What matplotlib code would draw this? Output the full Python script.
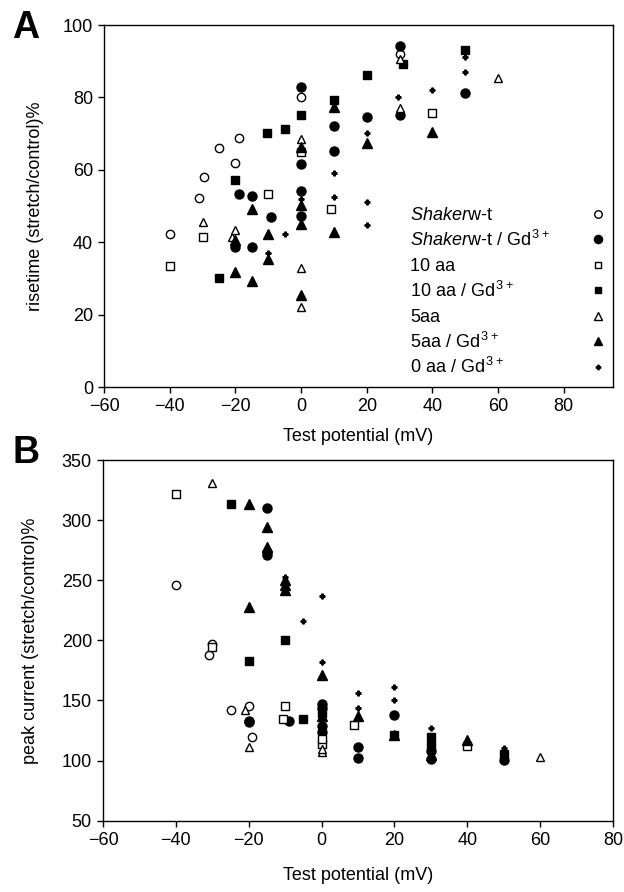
import matplotlib
matplotlib.use("Agg")
import matplotlib.pyplot as plt

plt.rcParams['font.family'] = ['Liberation Sans', 'DejaVu Sans']
plt.rcParams['mathtext.fontset'] = 'custom'
plt.rcParams['mathtext.rm'] = 'Liberation Sans'
plt.rcParams['mathtext.it'] = 'Liberation Sans:italic'
plt.rcParams['font.size'] = 13

# ---- panel A: risetime ----
a_wt_x = [-40, -31, -29.5, -25, -20, -19, 0, 30]
a_wt_y = [42.2, 52.1, 58.1, 66.1, 61.8, 68.9, 80, 92]
a_wtgd_x = [-20, -19, -15, -15, -9, 0, 0, 0, 0, 10, 10, 20, 30, 30, 50]
a_wtgd_y = [38.8, 53.2, 52.8, 38.8, 47, 83, 61.5, 54.2, 47.2, 72.1, 65.2, 74.7, 94.2, 75.1, 81.1]
a_10_x = [-40, -30, -10, 0, 9, 40]
a_10_y = [33.4, 41.4, 53.3, 65, 49.2, 75.8]
a_10gd_x = [-25, -20, -10.5, -5, 0, 10, 20, 31, 50]
a_10gd_y = [30, 57.2, 70.3, 71.2, 75.1, 79.3, 86.2, 89.2, 93.1]
a_5_x = [-30, -21, -20, 0, 0, 0, 30, 30, 60]
a_5_y = [45.5, 41.5, 43.4, 68.4, 32.8, 22, 77.2, 90.5, 85.3]
a_5gd_x = [-20, -20, -15, -15, -10, -10, 0, 0, 0, 0, 10, 10, 20, 40]
a_5gd_y = [40.6, 31.7, 49.2, 29.3, 42.3, 35.3, 66.4, 50.3, 45, 25.4, 77.3, 42.7, 67.5, 70.4]
a_0gd_x = [-5, -10, 0, 10, 10, 20, 20, 20, 29.6, 40, 50, 50]
a_0gd_y = [42.3, 37.1, 52, 59.2, 52.4, 70.1, 51.1, 44.9, 80, 82, 91.1, 87.1]

# ---- panel B: peak current ----
b_wt_x = [-40, -30, -31, -25, -20, -19]
b_wt_y = [246.4, 197, 188, 142.5, 145.6, 119.5]
b_wtgd_x = [-15, -15, -15, -20, -20, -9, 0, 0, 0, 0, 10, 10, 20, 30, 30, 50]
b_wtgd_y = [310.3, 273.6, 270.8, 133.3, 132, 132.7, 147.2, 144, 129, 124, 111.1, 102.2, 138, 108.3, 101.4, 100.6]
b_10_x = [-40, -30, -10, -10.5, 0, 0, 9, 40]
b_10_y = [321.4, 194.4, 145, 134.7, 113.9, 118, 129.2, 112.5]
b_10gd_x = [-25, -20, -10, -5, 0, 20, 30, 30, 50]
b_10gd_y = [313, 183, 200, 134.7, 140, 121, 119.5, 113, 105.6]
b_5_x = [-30, -21, -20, 0, 0, 30, 60]
b_5_y = [331, 142.5, 111, 107, 110, 104, 103.4]
b_5gd_x = [-20, -15, -15, -10, -10, -10, -20, 0, 0, 10, 20, 30, 40]
b_5gd_y = [313, 294.5, 277.8, 250, 245.8, 242, 227.8, 170.8, 137.5, 137.5, 121.4, 105, 117.2]
b_0gd_x = [-10, -5, 0, 0, 10, 10, 20, 20, 30, 50]
b_0gd_y = [252.8, 216, 236.7, 182, 156.1, 143.9, 161, 150, 127, 110.3]

labels = [r'$\it{Shaker}$w-t', r'$\it{Shaker}$w-t / Gd$^{\,3+}$', '10 aa',
          r'10 aa / Gd$^{\,3+}$', '5aa', r'5aa / Gd$^{\,3+}$', r'0 aa / Gd$^{\,3+}$']

# marker, face colour, size
styles = [('o', 'white', 6), ('o', 'black', 6.5), ('s', 'white', 5.5), ('s', 'black', 5.5),
          ('^', 'white', 6), ('^', 'black', 6.5), ('P', 'black', 3.5)]

fig = plt.figure(figsize=(6.24, 8.92), dpi=100)
axA = fig.add_axes([0.1667, 0.5661, 0.8157, 0.4058])
axB = fig.add_axes([0.1651, 0.0799, 0.8173, 0.4044])

setsA = [(a_wt_x, a_wt_y), (a_wtgd_x, a_wtgd_y), (a_10_x, a_10_y), (a_10gd_x, a_10gd_y),
         (a_5_x, a_5_y), (a_5gd_x, a_5gd_y), (a_0gd_x, a_0gd_y)]
setsB = [(b_wt_x, b_wt_y), (b_wtgd_x, b_wtgd_y), (b_10_x, b_10_y), (b_10gd_x, b_10gd_y),
         (b_5_x, b_5_y), (b_5gd_x, b_5gd_y), (b_0gd_x, b_0gd_y)]

for ax, sets in [(axA, setsA), (axB, setsB)]:
    for (xs, ys), (m, fc, ms) in zip(sets, styles):
        ax.plot(xs, ys, linestyle='none', marker=m, markersize=ms, markerfacecolor=fc,
                markeredgecolor='black', markeredgewidth=1.0)
    ax.tick_params(direction='out', length=4, width=1, pad=4, labelsize=13)
    for s in ax.spines.values():
        s.set_linewidth(1)

axA.set_xlim(-60, 95)
axA.set_ylim(0, 100)
axA.set_xticks([-60, -40, -20, 0, 20, 40, 60, 80])
axA.set_yticks([0, 20, 40, 60, 80, 100])
axA.set_xlabel('Test potential (mV)', fontsize=13, labelpad=9)
axA.set_ylabel('risetime (stretch/control)%', fontsize=13)
axA.yaxis.set_label_coords(-0.118, 0.5)

axB.set_xlim(-60, 80)
axB.set_ylim(50, 350)
axB.set_xticks([-60, -40, -20, 0, 20, 40, 60, 80])
axB.set_yticks([50, 100, 150, 200, 250, 300, 350])
axB.set_xlabel('Test potential (mV)', fontsize=13, labelpad=13)
axB.set_ylabel('peak current (stretch/control)%', fontsize=13)
axB.yaxis.set_label_coords(-0.125, 0.5)

# legend drawn inside panel A: text on the left, symbol on the right
for i, (lab, (m, fc, ms)) in enumerate(zip(labels, styles)):
    yb = 0.461 - i * 0.0704
    axA.text(0.601, yb, lab, transform=axA.transAxes, fontsize=13, va='baseline', ha='left')
    axA.plot([0.970], [yb + 0.018], transform=axA.transAxes, linestyle='none', marker=m,
             markersize=ms * 0.9, markerfacecolor=fc, markeredgecolor='black',
             markeredgewidth=1.0, clip_on=False)

fig.text(0.020, 0.9686, 'A', fontsize=27, fontweight='bold', va='center')
fig.text(0.020, 0.492, 'B', fontsize=27, fontweight='bold', va='center')

fig.savefig('out.png', dpi=100)
